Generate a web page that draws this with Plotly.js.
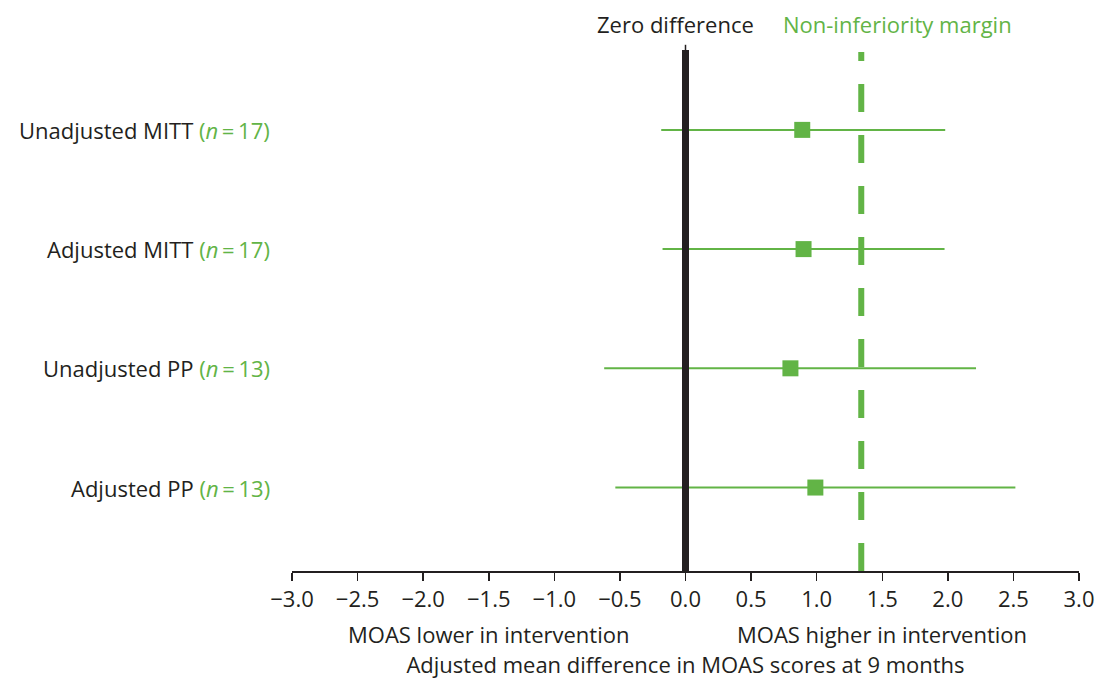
<!DOCTYPE html>
<html>
<head>
<meta charset="utf-8">
<script src="https://cdn.plot.ly/plotly-3.0.1.min.js"></script>
<style>html,body{margin:0;padding:0;background:#fff;}</style>
</head>
<body>
<div id="chart" style="width:1098px;height:679px;"></div>
<script>
// Data
const labels = ["Unadjusted MITT", "Adjusted MITT", "Unadjusted PP", "Adjusted PP"];
const nValues = [17, 17, 13, 13];
const rowPos = [4, 3, 2, 1];
const estimates = [0.89, 0.90, 0.80, 0.99];
const ciLower = [-0.185, -0.175, -0.62, -0.535];
const ciUpper = [1.98, 1.975, 2.215, 2.515];
const margin = 1.34;
const xTickVals = [-3.0, -2.5, -2.0, -1.5, -1.0, -0.5, 0.0, 0.5, 1.0, 1.5, 2.0, 2.5, 3.0];
const xTickText = ["\u22123.0", "\u22122.5", "\u22122.0", "\u22121.5", "\u22121.0", "\u22120.5", "0.0", "0.5", "1.0", "1.5", "2.0", "2.5", "3.0"];

const GREEN = "#62b446";
const DARK = "#231f20";
const FONT = "Open Sans, Noto Sans, sans-serif";
const FS = 22;

const errPlus = estimates.map((e, i) => ciUpper[i] - e);
const errMinus = estimates.map((e, i) => e - ciLower[i]);

const trace = {
  type: "scatter",
  mode: "markers",
  x: estimates,
  y: rowPos,
  marker: { symbol: "square", size: 16, color: GREEN },
  error_x: {
    type: "data", symmetric: false, array: errPlus, arrayminus: errMinus,
    color: GREEN, thickness: 2, width: 0
  },
  hoverinfo: "skip",
  showlegend: false
};

const annotations = labels.map((lab, i) => ({
  xref: "paper", yref: "y", x: 0, y: rowPos[i],
  xanchor: "right", yanchor: "middle", xshift: -20,
  text: lab + " <span style='color:" + GREEN + "'>(<i>n</i>\u2009=\u2009" + nValues[i] + ")</span>",
  showarrow: false, font: { family: FONT, size: FS, color: DARK }
}));

annotations.push(
  { xref: "x", yref: "paper", x: 0, y: 1, yshift: 26, xshift: -10, xanchor: "center", yanchor: "middle",
    text: "Zero difference", showarrow: false, font: { family: FONT, size: FS, color: DARK } },
  { xref: "x", yref: "paper", x: margin, y: 1, yshift: 26, xshift: -80, xanchor: "left", yanchor: "middle",
    text: "Non-inferiority margin", showarrow: false, font: { family: FONT, size: FS, color: GREEN } },
  { xref: "x", yref: "paper", x: -1.5, y: 0, yshift: -63, xanchor: "center", yanchor: "middle",
    text: "MOAS lower in intervention", showarrow: false, font: { family: FONT, size: FS, color: DARK } },
  { xref: "x", yref: "paper", x: 1.5, y: 0, yshift: -63, xanchor: "center", yanchor: "middle",
    text: "MOAS higher in intervention", showarrow: false, font: { family: FONT, size: FS, color: DARK } }
);

const layout = {
  width: 1098, height: 679,
  margin: { l: 292, r: 19, t: 50, b: 108 },
  paper_bgcolor: "#fff", plot_bgcolor: "#fff",
  font: { family: FONT, size: FS, color: DARK },
  xaxis: {
    range: [-3, 3], tickvals: xTickVals, ticktext: xTickText,
    showgrid: false, zeroline: false, showline: true, linecolor: DARK, linewidth: 1.5,
    ticks: "outside", ticklen: 8, tickwidth: 1.5, tickcolor: DARK,
    tickfont: { family: FONT, size: FS, color: DARK },
    title: { text: "Adjusted mean difference in MOAS scores at 9 months", standoff: 58,
             font: { family: FONT, size: FS, color: DARK } },
    fixedrange: true
  },
  yaxis: {
    range: [0.3, 4.67], showgrid: false, zeroline: false, showline: false,
    showticklabels: false, ticks: "", fixedrange: true
  },
  shapes: [
    { type: "line", xref: "x", yref: "paper", x0: 0, x1: 0, y0: 0, y1: 1,
      line: { color: DARK, width: 7 } },
    { type: "line", xref: "x", yref: "paper", x0: 0, x1: 0, y0: 1, y1: 1.01,
      line: { color: DARK, width: 1.5 } },
    { type: "line", xref: "x", yref: "paper", x0: margin, x1: margin, y0: 0, y1: 0.996,
      line: { color: GREEN, width: 6, dash: "28px,23px" } }
  ],
  annotations: annotations
};

Plotly.newPlot("chart", [trace], layout, { displayModeBar: false, staticPlot: true });
</script>
</body>
</html>
